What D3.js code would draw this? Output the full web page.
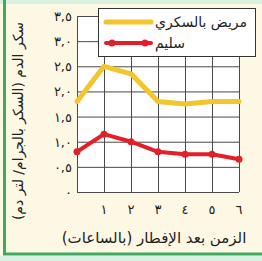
<!DOCTYPE html>
<html lang="ar">
<head>
<meta charset="UTF-8">
<script src="https://d3js.org/d3.v7.min.js"></script>
<style>
    body { margin: 0; background: #fdf8e4; }
    svg { display: block; font-family: 'DejaVu Sans', sans-serif; }
</style>
</head>
<body>
<div id="chart"></div>
<script>
    // data
    var hours = [0, 1, 2, 3, 4, 5, 6];
    var diabetic = [1.8, 2.5, 2.35, 1.8, 1.75, 1.8, 1.8];
    var healthy = [0.8, 1.15, 1.0, 0.8, 0.75, 0.75, 0.65];
    var yTicks = [0, 0.5, 1, 1.5, 2, 2.5, 3, 3.5];
    var yTickLabels = ["٠", "٠,٥", "١,٠", "١,٥", "٢,٠", "٢,٥", "٣,٠", "٣,٥"];
    var xTicks = [1, 2, 3, 4, 5, 6];
    var xTickLabels = ["١", "٢", "٣", "٤", "٥", "٦"];
    var seriesNames = ["مريض بالسكري", "سليم"];

    var W = 262, H = 261;
    var svg = d3.select("#chart").append("svg")
        .attr("width", W).attr("height", H);

    // green frame
    svg.append("rect").attr("x", 0).attr("y", 0).attr("width", W).attr("height", 4)
        .attr("fill", "#d9f2df");
    svg.append("rect").attr("x", 4.5).attr("y", -5).attr("width", 270).attr("height", 259)
        .attr("fill", "none").attr("stroke", "#3daa5f").attr("stroke-width", 3);
    svg.append("rect").attr("x", 0).attr("y", 256).attr("width", W).attr("height", 5)
        .attr("fill", "#d9f2df");

    var x = d3.scaleLinear().domain([0, 6]).range([77, 239]);
    var y = d3.scaleLinear().domain([0, 3.5]).range([192, 16]);

    svg.append("rect").attr("x", x(0)).attr("y", y(3.5))
        .attr("width", x(6) - x(0)).attr("height", y(0) - y(3.5))
        .attr("fill", "white");

    // grid
    svg.append("g").attr("transform", "translate(0," + y(0) + ")")
        .call(d3.axisBottom(x).tickValues(hours).tickSize(-(y(0) - y(3.5))).tickFormat(""))
        .call(g => g.select(".domain").remove())
        .selectAll("line").attr("stroke", "#4a4a4a");
    svg.append("g").attr("transform", "translate(" + x(0) + ",0)")
        .call(d3.axisLeft(y).tickValues(yTicks).tickSize(-(x(6) - x(0))).tickFormat(""))
        .call(g => g.select(".domain").remove())
        .selectAll("line").attr("stroke", "#4a4a4a");

    // tick labels
    svg.append("g").selectAll("text").data(yTicks).enter().append("text")
        .attr("x", 72).attr("y", d => y(d) + 5)
        .attr("text-anchor", "end")
        .style("font-size", "13px").style("letter-spacing", "2px").attr("fill", "#222")
        .text((d, i) => yTickLabels[i]);
    svg.append("g").selectAll("text").data(xTicks).enter().append("text")
        .attr("x", d => x(d)).attr("y", 214)
        .attr("text-anchor", "middle")
        .style("font-size", "13px").attr("fill", "#222")
        .text((d, i) => xTickLabels[i]);

    // lines
    var line = d3.line().x((d, i) => x(hours[i])).y(d => y(d));
    svg.append("path").datum(diabetic).attr("d", line)
        .attr("fill", "none").attr("stroke", "#f4c62e").attr("stroke-width", 5)
        .attr("stroke-linejoin", "round").attr("stroke-linecap", "round");
    svg.append("path").datum(healthy).attr("d", line)
        .attr("fill", "none").attr("stroke", "#e3202a").attr("stroke-width", 4)
        .attr("stroke-linejoin", "round").attr("stroke-linecap", "round");
    svg.append("g").selectAll("circle").data(healthy).enter().append("circle")
        .attr("cx", (d, i) => x(hours[i])).attr("cy", d => y(d)).attr("r", 3.5)
        .attr("fill", "#e3202a");

    // legend
    var leg = svg.append("g");
    leg.append("rect").attr("x", 98.5).attr("y", 8.5).attr("width", 157).attr("height", 48)
        .attr("fill", "white").attr("stroke", "#333").attr("stroke-width", 1);
    var legColors = ["#f4c62e", "#e3202a"];
    var legY = [22, 43];
    seriesNames.forEach(function(name, i) {
        leg.append("line").attr("x1", 106).attr("x2", 151).attr("y1", legY[i]).attr("y2", legY[i])
            .attr("stroke", legColors[i]).attr("stroke-width", i == 0 ? 5 : 4)
            .attr("stroke-linecap", "round");
        if (i == 1) {
            [112, 145].forEach(function(cx) {
                leg.append("circle").attr("cx", cx).attr("cy", legY[i]).attr("r", 3.5)
                    .attr("fill", legColors[i]);
            });
        }
        leg.append("text").attr("x", 155).attr("y", legY[i] + 5)
            .attr("text-anchor", "start").style("direction", "ltr")
            .style("font-size", "14px").attr("fill", "#222")
            .text(name);
    });

    // axis titles
    svg.append("text")
        .attr("transform", "translate(23,121) rotate(-90)")
        .attr("text-anchor", "middle")
        .style("font-size", "14px").attr("fill", "#222")
        .text("سكر الدم (السكر بالجرام/ لتر دم)");
    svg.append("text")
        .attr("x", 154).attr("y", 243)
        .attr("text-anchor", "middle")
        .style("font-size", "15px").attr("fill", "#222")
        .text("الزمن بعد الإفطار (بالساعات)");
</script>
</body>
</html>
